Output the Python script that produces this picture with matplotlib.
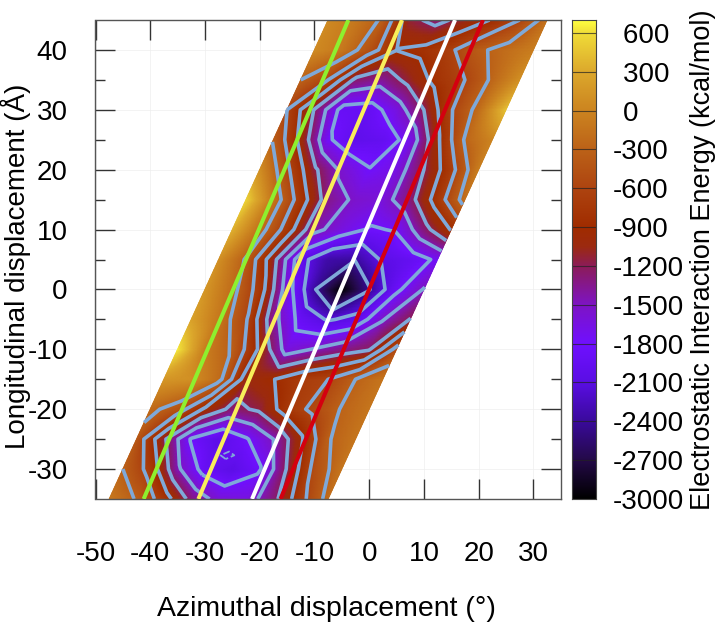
import numpy as np
import matplotlib
matplotlib.use("Agg")
import matplotlib.pyplot as plt
from matplotlib.colors import LinearSegmentedColormap, Normalize

plt.rcParams['font.family'] = ['Liberation Sans', 'DejaVu Sans']
plt.rcParams['axes.unicode_minus'] = False

# skewed grid: u = azimuth - 0.5 * longitudinal
shear = 0.5
u_vals = [-30, -25, -20, -15, -10, -5, 0, 5, 10]
y_vals = [-35, -30, -25, -20, -15, -10, -5, 0, 5, 10, 15, 20, 25, 30, 35, 40, 45]
energy = [
    [-100, -320, -750, -1300, -1600, -1650, -1300, -700, -200],
    [-300, -700, -1450, -1920, -2060, -1830, -1180, -500, -130],
    [-400, -1150, -1830, -2060, -1830, -1500, -950, -320, -130],
    [-220, -450, -950, -1280, -1150, -750, -530, -280, -130],
    [150, 100, -200, -1050, -910, -700, -600, -300, -130],
    [650, -50, -330, -950, -1630, -1480, -1330, -1230, -500],
    [250, -100, -570, -1400, -1900, -2130, -2020, -1520, -1190],
    [150, -200, -730, -1650, -2370, -3000, -2420, -1870, -1480],
    [100, -330, -1100, -2000, -2350, -2380, -2060, -1950, -1750],
    [350, -170, -730, -1420, -1640, -1830, -1780, -1300, -880],
    [550, -120, -750, -1350, -1550, -1610, -1300, -760, -180],
    [100, -540, -1150, -1560, -1790, -1650, -1200, -700, -50],
    [-330, -980, -1760, -2020, -1950, -1700, -950, -270, 0],
    [-600, -1220, -1900, -1930, -1650, -1200, -620, -200, 450],
    [-300, -600, -1270, -1380, -1100, -800, -600, -250, 100],
    [50, -100, -450, -890, -820, -640, -350, -200, -60],
    [50, -100, -340, -1130, -1290, -1080, -880, -600, -170],
]
levels = [-2400, -2100, -1800, -1500, -1200, -900, -600, -300]

# small local minimum in the lower well, between grid nodes
dip_u = [-14.55, -12.05, -9.55]
dip_y = [-28.95, -27.7, -26.45]
dip_energy = [
    [-2050, -2050, -2050],
    [-2050, -2150, -2050],
    [-2050, -2050, -2050],
]
dip_level = [-2100]

line_y = [-35, 45]
line_green = [-41.2, -3.8]
line_yellow = [-31.2, 6.0]
line_white = [-21.4, 15.7]
line_red = [-16.2, 20.8]

x_ticks = [-50, -40, -30, -20, -10, 0, 10, 20, 30]
y_ticks = [-30, -20, -10, 0, 10, 20, 30, 40]
y_minor = [-25, -15, -5, 5, 15, 25, 35]
cbar_ticks = [-3000, -2700, -2400, -2100, -1800, -1500, -1200, -900, -600, -300, 0, 300, 600]

cmap_stops = [
    (-3000, '#000000'), (-2700, '#240a48'), (-2400, '#3a0a9c'), (-2100, '#5a0ee4'),
    (-1800, '#7010ff'), (-1500, '#7e14c4'), (-1200, '#8c1c58'), (-1050, '#9c2a10'),
    (-900, '#a02c00'), (-600, '#ae4410'), (-300, '#bc6218'), (0, '#cc8420'),
    (300, '#dca82c'), (600, '#f0dc38'), (700, '#ffff40'),
]
vmin, vmax = -3000, 700
cmap = LinearSegmentedColormap.from_list(
    'energy', [((v - vmin) / (vmax - vmin), c) for v, c in cmap_stops], N=512)
norm = Normalize(vmin, vmax)

W, H = 717, 626
fig = plt.figure(figsize=(W / 100, H / 100), dpi=100)


def box(l, t, r, b):
    return [l / W, 1 - b / H, (r - l) / W, (b - t) / H]


ax = fig.add_axes(box(95.5, 20, 560.7, 499))
U, Y = np.meshgrid(u_vals, y_vals)
X = U + shear * Y
Z = np.array(energy, dtype=float)

# bilinear shading of the colour layer (the chart's own smooth rendering)
uf = np.linspace(u_vals[0], u_vals[-1], 161)
yf = np.linspace(y_vals[0], y_vals[-1], 321)
Zu = np.array([np.interp(uf, u_vals, row) for row in Z])
Zf = np.array([np.interp(yf, y_vals, col) for col in Zu.T]).T
Uf, Yf = np.meshgrid(uf, yf)
ax.pcolormesh(Uf + shear * Yf, Yf, Zf, shading='gouraud', cmap=cmap, norm=norm, zorder=1,
              rasterized=True)
ax.contour(X, Y, Z, levels=levels, colors='#7fa9d9', linewidths=2.6, linestyles='solid', zorder=2)
Ud, Yd = np.meshgrid(dip_u, dip_y)
ax.contour(Ud + shear * Yd, Yd, np.array(dip_energy, dtype=float), levels=dip_level,
           colors='#7fa9d9', linewidths=1.3, zorder=2)
for vals, col in [(line_green, '#8ef02e'), (line_yellow, '#f8ee5a'),
                  (line_white, '#ffffff'), (line_red, '#d4000f')]:
    ax.plot(vals, line_y, color=col, lw=2.9, zorder=3, solid_capstyle='butt')

ax.set_xlim(-50, 35)
ax.set_ylim(-35, 45)
ax.set_xticks(x_ticks)
ax.set_yticks(y_ticks)
ax.set_yticks(y_minor, minor=True)
ax.grid(True, which='major', color='#eeeeee', lw=0.5, zorder=0)
ax.set_axisbelow(True)
ax.tick_params(axis='both', which='major', direction='in', length=14.4, width=1.0,
               top=True, right=True, color='#333333', labelsize=20)
ax.tick_params(axis='y', which='minor', direction='in', length=7.2, width=1.0,
               right=True, color='#333333')
ax.tick_params(axis='x', pad=30)
ax.tick_params(axis='y', pad=20)
for s in ax.spines.values():
    s.set_color('#555555')
    s.set_linewidth(1.0)
ax.set_xlabel('Azimuthal displacement (°)', fontsize=20.5)
ax.xaxis.set_label_coords(0.497, 1 - (609 - 20) / 479, transform=ax.transAxes)
ax.xaxis.label.set_va('center')
ax.set_ylabel('Longitudinal displacement (Å)', fontsize=20)
ax.yaxis.set_label_coords((16 - 95.5) / 465.2, (499 - 266) / 479, transform=ax.transAxes)
ax.yaxis.label.set_va('center')

cax = fig.add_axes(box(572, 20, 595.7, 499))
grad = np.linspace(vmin, vmax, 512).reshape(-1, 1)
cax.imshow(grad, origin='lower', aspect='auto', extent=[0, 1, vmin, vmax], cmap=cmap, norm=norm)
cax.set_xticks([])
cax.set_ylim(vmin, vmax)
cax.set_yticks(cbar_ticks)
cax.set_yticklabels([str(t) if t < 0 else '\u2009\u2009' + str(t) for t in cbar_ticks])
cax.yaxis.tick_right()
for t in cbar_ticks:
    cax.axhline(t, color='#222222', lw=0.8, alpha=0.7)
cax.tick_params(axis='y', length=0, pad=12, labelsize=20)
for s in cax.spines.values():
    s.set_color('#444444')
    s.set_linewidth(0.8)
fig.text(703 / W, 1 - 260 / H, 'Electrostatic Interaction Energy (kcal/mol)', rotation=90,
         ha='center', va='center', fontsize=19.5)

fig.savefig('out.png', dpi=100)
